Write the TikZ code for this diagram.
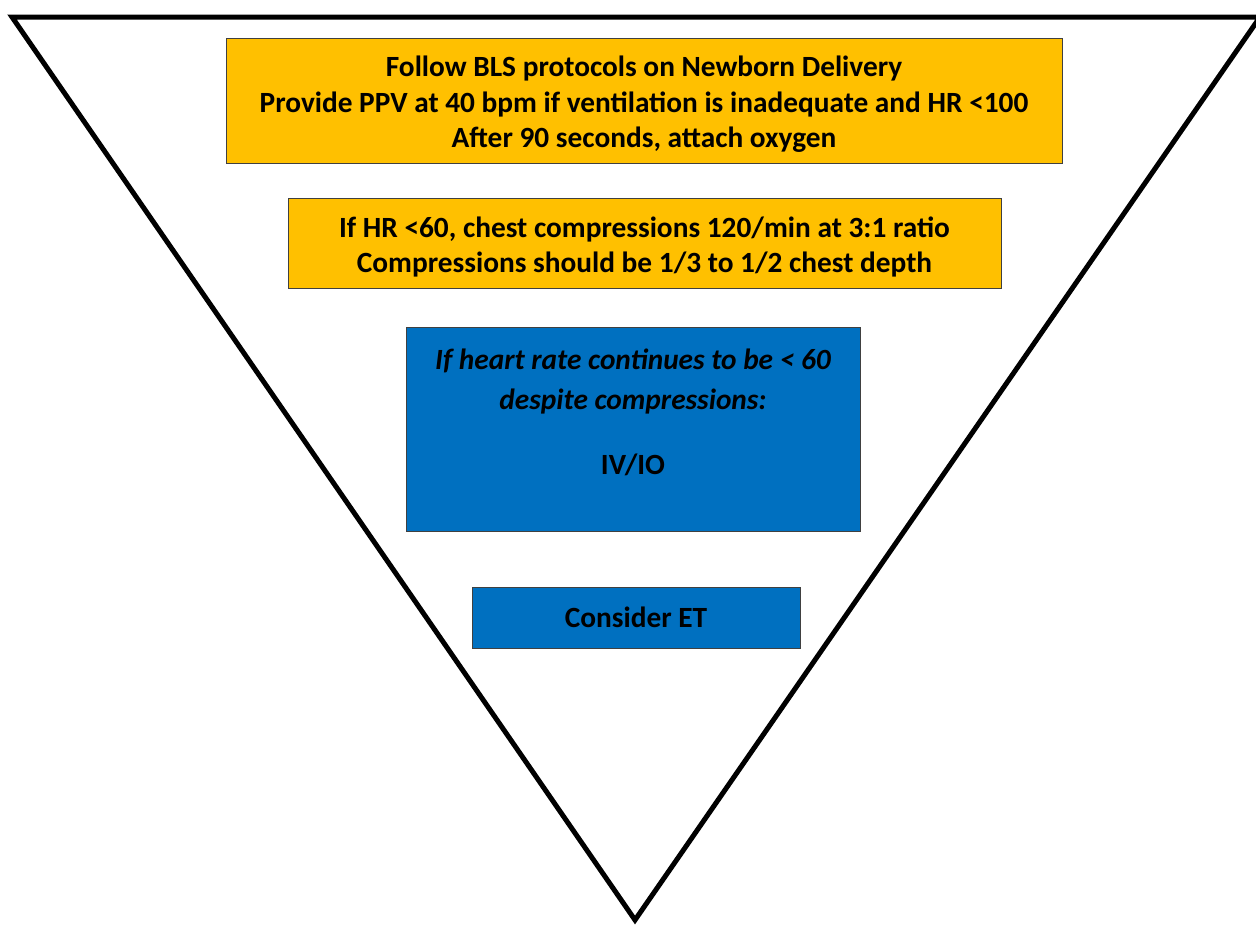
\documentclass[tikz,border=0pt]{standalone}
\usepackage{fontspec}
\setmainfont{Carlito}
\definecolor{amber}{HTML}{FFC000}
\definecolor{seablue}{HTML}{0070C0}
\newcommand{\lift}{\rule{0pt}{21pt}}
\tikzset{
  stepbox/.style={draw=black!75, line width=0.75pt, align=center, inner sep=0pt,
    font=\fontsize{22}{26.5}\selectfont\bfseries},
  amberbox/.style={stepbox, fill=amber},
  bluebox/.style={stepbox, fill=seablue},
}
\begin{document}
\begin{tikzpicture}[x=0.75pt,y=-0.75pt]
\useasboundingbox (0,0) rectangle (1256,925);
% inverted triangle
\draw[line width=3.75pt] (12,17) -- (1260,17) -- (635,920) -- cycle;
% steps, top to bottom
\node[amberbox, minimum width=627pt, minimum height=93.75pt] (bls) at (644,100.5)
  {\lift Follow BLS protocols on Newborn Delivery\\
   Provide PPV at 40 bpm if ventilation is inadequate and HR <100\\
   After 90 seconds, attach oxygen};
\node[amberbox, minimum width=534.75pt, minimum height=67.5pt] (cpr) at (644.5,243)
  {\lift If HR <60, chest compressions 120/min at 3:1 ratio\\
   Compressions should be 1/3 to 1/2 chest depth};
\node[bluebox, minimum width=340.5pt, minimum height=153pt, text depth=26pt] (ivio) at (633,429)
  {\itshape If heart rate continues to be < 60\\[4pt]
   \itshape despite compressions:\\[22pt]
   IV/IO};
\node[bluebox, minimum width=246pt, minimum height=45.75pt] (et) at (636,617.5)
  {Consider ET};
\end{tikzpicture}
\end{document}
